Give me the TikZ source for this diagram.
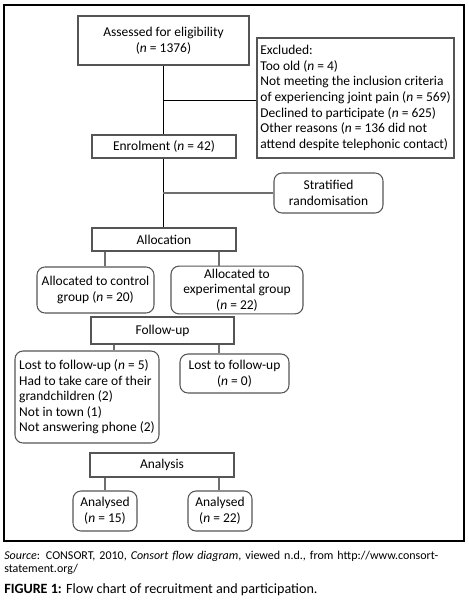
\documentclass[tikz,border=0pt]{standalone}
\usepackage{fontspec}
\setmainfont{Carlito}
\usetikzlibrary{calc}
\definecolor{boxline}{RGB}{85,85,85}
\definecolor{branch}{RGB}{110,110,110}
\begin{document}
\begin{tikzpicture}[x=0.75pt,y=-0.75pt,
  base/.style={draw=boxline,line width=0.8pt,inner sep=2pt,
    font=\fontsize{10.1}{11.7}\selectfont,align=center},
  sqbox/.style={base,rectangle},
  rbox/.style={base,rectangle,rounded corners=6pt},
  main/.style={draw=black,line width=0.75pt},
  side/.style={draw=branch,line width=0.8pt}]
\useasboundingbox (0,0) rectangle (468,603);
\fill[white] (0,0) rectangle (468,603);
\draw[line width=0.9pt] (4,5) rectangle (464,541);

\node[sqbox,minimum width=171*0.75pt,minimum height=49*0.75pt] (assess) at (163.5,40.5)
  {Assessed for eligibility\\(\textit{n} = 1376)};
\node[sqbox,minimum width=197*0.75pt,minimum height=120*0.75pt,align=left] (excl) at (355.5,98)
  {Excluded:\\Too old (\textit{n} = 4)\\Not meeting the inclusion criteria\\of experiencing joint pain (\textit{n} = 569)\\Declined to participate (\textit{n} = 625)\\Other reasons (\textit{n} = 136 did not\\attend despite telephonic contact)};
\node[sqbox,minimum width=144*0.75pt,minimum height=23*0.75pt] (enrol) at (164,146.5)
  {Enrolment (\textit{n} = 42)};
\node[rbox,minimum width=109*0.75pt,minimum height=40*0.75pt] (strat) at (328.5,193)
  {Stratified\\randomisation};
\node[sqbox,minimum width=144*0.75pt,minimum height=23*0.75pt] (alloc) at (164,239.5)
  {Allocation};
\node[rbox,minimum width=117*0.75pt,minimum height=46*0.75pt] (ctrl) at (95.5,290)
  {Allocated to control\\group (\textit{n} = 20)};
\node[rbox,minimum width=132*0.75pt,minimum height=46*0.75pt] (expg) at (237,290)
  {Allocated to\\experimental group\\(\textit{n} = 22)};
\node[sqbox,minimum width=143*0.75pt,minimum height=27*0.75pt] (follow) at (162.5,330.5)
  {Follow-up};
\node[rbox,minimum width=144*0.75pt,minimum height=92*0.75pt,align=left] (lostc) at (87,397)
  {Lost to follow-up (\textit{n} = 5)\\Had to take care of their\\grandchildren (2)\\Not in town (1)\\Not answering phone (2)};
\node[rbox,minimum width=109*0.75pt,minimum height=39*0.75pt] (loste) at (234.5,373.5)
  {Lost to follow-up\\(\textit{n} = 0)};
\node[sqbox,minimum width=144*0.75pt,minimum height=24*0.75pt] (analysis) at (162,465)
  {Analysis};
\node[rbox,minimum width=64*0.75pt,minimum height=40*0.75pt] (an15) at (105,511)
  {Analysed\\(\textit{n} = 15)};
\node[rbox,minimum width=64*0.75pt,minimum height=40*0.75pt] (an22) at (220,511)
  {Analysed\\(\textit{n} = 22)};

\coordinate (xl) at (105,0);
\coordinate (xf) at (114,0);
\coordinate (xr) at (219,0);
\coordinate (xm) at (163,0);

\draw[main] (assess.south -| xm) -- (enrol.north -| xm);
\draw[main] (excl.west |- 0,100) -- (xm |- 0,100);
\draw[main] (enrol.south -| xm) -- (alloc.north -| xm);
\draw[side] (strat.west) -- (strat.west -| xm);
\draw[side] (alloc.south -| xl) -- (ctrl.north -| xl);
\draw[side] (alloc.south -| xr) -- (expg.north -| xr);
\draw[side] (follow.south -| xf) -- (lostc.north -| xf);
\draw[side] (follow.south -| xr) -- (loste.north -| xr);
\draw[side] (analysis.south -| xl) -- (an15.north -| xl);
\draw[side] (analysis.south -| xr) -- (an22.north -| xr);

\node[anchor=north west,inner sep=0pt,text width=345pt,align=left,
  font=\fontsize{9}{9.6}\selectfont] (src) at (4,551)
  {\makebox[345pt][s]{\textit{Source}: CONSORT, 2010, \textit{Consort flow diagram}, viewed n.d., from http://www.consort-}\\statement.org/};
\node[anchor=north west,inner sep=0pt,font=\fontsize{10.6}{12}\selectfont] (cap) at (4,583)
  {\textbf{FIGURE 1:} Flow chart of recruitment and participation.};
\end{tikzpicture}
\end{document}
